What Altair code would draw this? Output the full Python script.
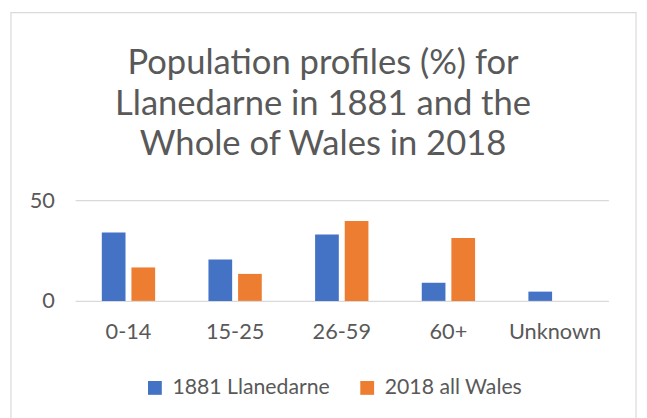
import altair as alt
import pandas as pd

categories = ["0-14", "15-25", "26-59", "60+", "Unknown"]
series_names = ["1881 Llanedarne", "2018 all Wales"]
llanedarne_1881 = [34.0, 20.5, 33.0, 9.0, 4.6]
wales_2018 = [16.6, 13.4, 39.7, 31.2, 0.0]
y_ticks = [0, 50]
colors = ["#4472C4", "#ED7D31"]

rows = []
for c, a, b in zip(categories, llanedarne_1881, wales_2018):
    rows.append({"age": c, "series": series_names[0], "value": a})
    rows.append({"age": c, "series": series_names[1], "value": b})
df = pd.DataFrame(rows)

FONT = "Lato"
TXT = "#595959"

bars = alt.Chart(df).mark_bar().encode(
    x=alt.X("age:N", sort=categories,
            scale=alt.Scale(paddingInner=0.5, paddingOuter=0.25),
            axis=alt.Axis(title=None, labelAngle=0, domain=False, ticks=False,
                          labelPadding=21, labelFontSize=22, labelColor=TXT,
                          labelFont=FONT, grid=False)),
    xOffset=alt.XOffset("series:N", sort=series_names,
                        scale=alt.Scale(paddingInner=0.2, paddingOuter=0)),
    y=alt.Y("value:Q", scale=alt.Scale(domain=[0, 50], nice=False),
            axis=alt.Axis(title=None, values=y_ticks, domain=False, ticks=False,
                          labelPadding=21, labelFontSize=22, labelColor=TXT,
                          labelFont=FONT, grid=True, gridColor="#D9D9D9",
                          gridWidth=1.3)),
    color=alt.Color("series:N", sort=series_names,
                    scale=alt.Scale(domain=series_names, range=colors),
                    legend=alt.Legend(title=None, orient="none", direction="horizontal",
                                      legendX=70, legendY=179,
                                      symbolType="square", symbolSize=196,
                                      symbolStrokeWidth=0, labelFontSize=21.5,
                                      labelFont=FONT, labelColor=TXT, labelLimit=400,
                                      labelOffset=7, columnPadding=27)),
)

frame = alt.Chart(pd.DataFrame({"k": [0]})).mark_rect(
    fill=None, stroke="#D9D9D9", strokeWidth=1.2
).encode(
    x=alt.value(-65), x2=alt.value(568), y=alt.value(-190), y2=alt.value(240)
)

chart = alt.layer(frame, bars).properties(
    width=540, height=102,
    autosize=alt.AutoSizeParams(type="none"),
    padding={"left": 68, "top": 192, "right": 31, "bottom": 116},
    title=alt.TitleParams(
        ["Population profiles (%) for", "Llanedarne in 1881 and the", "Whole of Wales in 2018"],
        anchor="middle", font=FONT, fontSize=35, fontWeight="normal",
        color=TXT, lineHeight=41, dx=-19, offset=0, dy=152),
).configure(background="white").configure_view(stroke=None)

chart.save("out.html", embed_options={"renderer": "svg", "actions": False})
